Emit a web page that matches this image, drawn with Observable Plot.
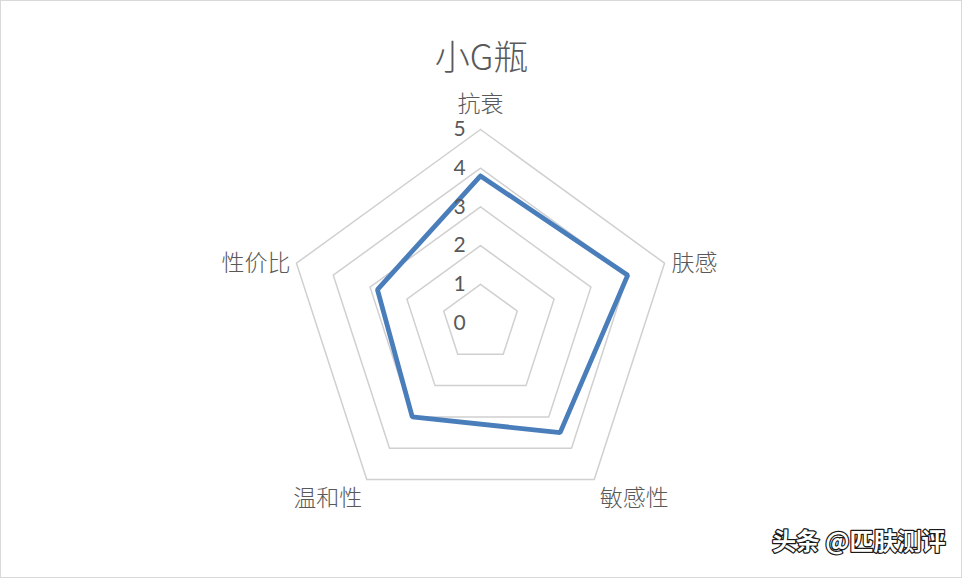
<!DOCTYPE html>
<html>
<head>
<meta charset="utf-8">
<script src="https://cdn.jsdelivr.net/npm/d3@7"></script>
<script src="https://cdn.jsdelivr.net/npm/@observablehq/plot@0.6"></script>
<style>
  html, body { margin: 0; padding: 0; background: #fff; }
  #chart { width: 960px; height: 576px; border: 1px solid #d9d9d9; overflow: hidden; }
  #chart svg { display: block; }
</style>
</head>
<body>
<div id="chart"></div>
<script>
const title = "小G瓶";
const categories = ["抗衰", "肤感", "敏感性", "温和性", "性价比"];
const values = [3.8, 4.0, 3.5, 3.0, 2.8];
const levels = [0, 1, 2, 3, 4, 5];
const levelLabels = ["0", "1", "2", "3", "4", "5"];
const watermark = "头条 @匹肤测评";

const W = 960, H = 576;
const cx = 479, cy = 321.5, unit = 38.7;
const maxLevel = d3.max(levels);
const n = categories.length;
const ang = i => (i * 2 * Math.PI) / n;
const px = (r, i) => r * Math.sin(ang(i));
const py = (r, i) => r * Math.cos(ang(i));

const rings = [];
for (const L of levels.filter(l => l > 0)) {
  for (let i = 0; i <= n; i++) rings.push({level: L, x: px(L, i % n), y: py(L, i % n)});
}
const series = [];
for (let i = 0; i <= n; i++) series.push({x: px(values[i % n], i % n), y: py(values[i % n], i % n)});

const catPts = categories.map((c, i) => ({label: c, x: px(maxLevel, i), y: py(maxLevel, i), i}));
const anchorOf = i => {
  const a = ang(i);
  const s = Math.sin(a);
  if (Math.abs(s) < 0.1) return "middle";
  if (Math.cos(a) < -0.5) return "middle";
  return s > 0 ? "start" : "end";
};
const dxOf = i => {
  const a = ang(i), s = Math.sin(a), c = Math.cos(a);
  if (Math.abs(s) < 0.1) return 0;
  if (c < -0.5) return s > 0 ? 40 : -39;
  return s > 0 ? 7 : -6;
};
const dyOf = i => {
  const c = Math.cos(ang(i));
  if (c > 0.9) return -25;
  if (c < -0.5) return 19;
  return 0;
};

const font = "'Noto Sans CJK SC', 'Noto Sans', sans-serif";

const plot = Plot.plot({
  width: W,
  height: H,
  margin: 0,
  x: {domain: [-cx / unit, (W - cx) / unit], range: [0, W], axis: null},
  y: {domain: [-(H - cy) / unit, cy / unit], range: [H, 0], axis: null},
  style: {background: "white", fontFamily: font},
  marks: [
    Plot.line(rings, {x: "x", y: "y", z: "level", stroke: "#d0d0d0", strokeWidth: 1.5}),
    Plot.line(series, {x: "x", y: "y", stroke: "#4A7EBB", strokeWidth: 4.8, strokeLinejoin: "miter"}),
    Plot.text(levels, {x: 0, y: d => d, text: (d, i) => levelLabels[i], dx: -21, fill: "#595959", fontSize: 21, fontFamily: "Lato, 'Open Sans', sans-serif", textAnchor: "middle"}),
    ...catPts.map(p => Plot.text([p], {x: "x", y: "y", text: "label", textAnchor: anchorOf(p.i), dx: dxOf(p.i), dy: dyOf(p.i), fill: "#595959", fontSize: 23, fontWeight: 300})),
    Plot.text([title], {frameAnchor: "top", text: d => d, dy: 44, fill: "#595959", fontSize: 35, fontWeight: 300}),
    Plot.text([watermark], {frameAnchor: "bottom-right", text: d => d, dx: -16, dy: -28, fill: "white", stroke: "#1a1a1a", strokeWidth: 2.5, paintOrder: "stroke", fontSize: 24, fontWeight: 700})
  ]
});
document.getElementById("chart").appendChild(plot);
</script>
</body>
</html>
